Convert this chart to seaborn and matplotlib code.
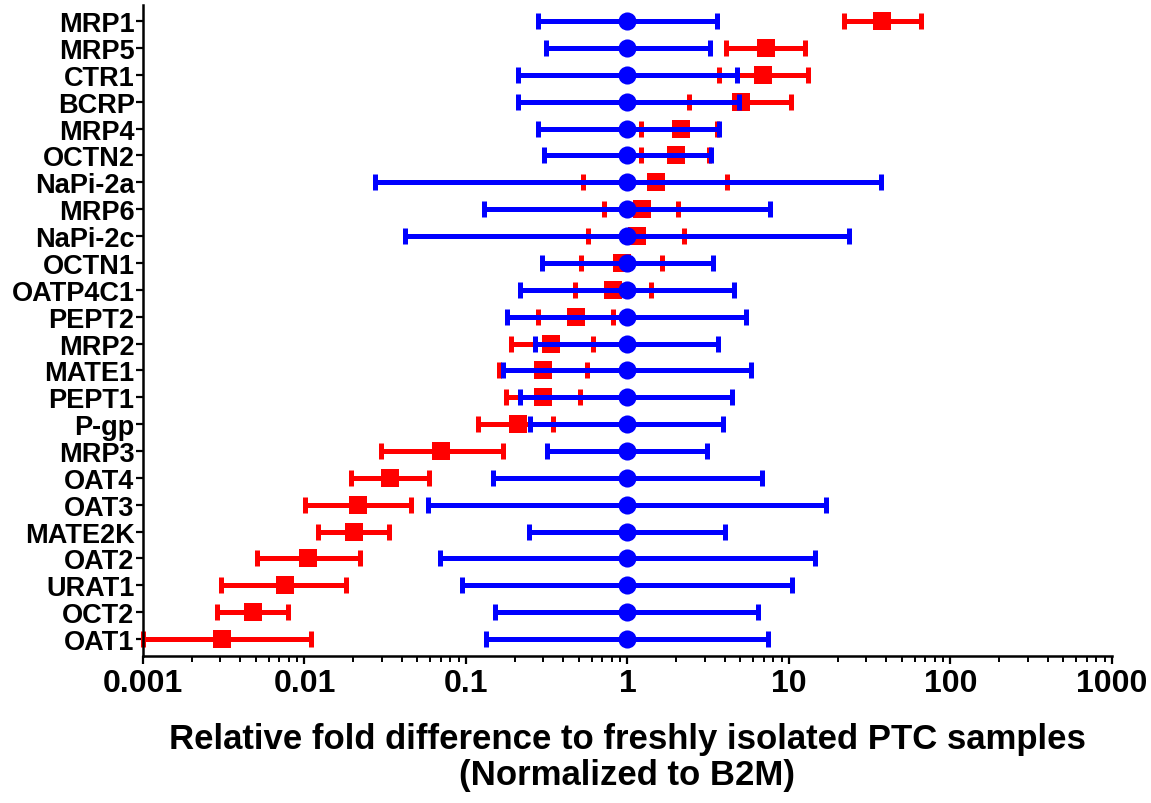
import numpy as np
import pandas as pd
import matplotlib
matplotlib.use("Agg")
import matplotlib.pyplot as plt
import matplotlib.ticker as mticker
import seaborn as sns

genes = ["MRP1", "MRP5", "CTR1", "BCRP", "MRP4", "OCTN2", "NaPi-2a", "MRP6",
         "NaPi-2c", "OCTN1", "OATP4C1", "PEPT2", "MRP2", "MATE1", "PEPT1", "P-gp",
         "MRP3", "OAT4", "OAT3", "MATE2K", "OAT2", "URAT1", "OCT2", "OAT1"]

blue_mean = [1.0] * 24
blue_low = [0.281, 0.312, 0.211, 0.211, 0.281, 0.306, 0.0274, 0.130, 0.0421, 0.294,
            0.217, 0.179, 0.267, 0.170, 0.217, 0.249, 0.318, 0.146, 0.0585, 0.246,
            0.0692, 0.0946, 0.152, 0.134]
blue_high = [3.56, 3.23, 4.80, 4.89, 3.69, 3.29, 37.0, 7.65, 23.4, 3.38,
             4.58, 5.43, 3.66, 5.83, 4.45, 3.93, 3.10, 6.79, 16.9, 4.02,
             14.4, 10.4, 6.47, 7.43]

red_mean = [37.9, 7.19, 6.95, 5.04, 2.13, 2.01, 1.50, 1.23, 1.15, 0.92,
            0.81, 0.479, 0.337, 0.302, 0.299, 0.210, 0.0697, 0.0339, 0.0215, 0.0202,
            0.0105, 0.00755, 0.00477, 0.00308]
red_low = [21.8, 4.08, 3.71, 2.41, 1.215, 1.215, 0.534, 0.72, 0.567, 0.519,
           0.471, 0.279, 0.189, 0.161, 0.177, 0.118, 0.0299, 0.0193, 0.0101, 0.0121,
           0.00507, 0.00306, 0.00287, 0.001]
red_high = [66.1, 12.5, 13.1, 10.3, 3.6, 3.2, 4.16, 2.05, 2.23, 1.63,
            1.39, 0.81, 0.615, 0.561, 0.508, 0.347, 0.170, 0.0591, 0.0455, 0.0333,
            0.0222, 0.0181, 0.00792, 0.0109]

x_ticks = [0.001, 0.01, 0.1, 1, 10, 100, 1000]
x_tick_labels = ["0.001", "0.01", "0.1", "1", "10", "100", "1000"]
xlabel = "Relative fold difference to freshly isolated PTC samples\n(Normalized to B2M)"

sns.set_theme(style="ticks")
plt.rcParams["font.family"] = ["Liberation Sans", "DejaVu Sans"]
plt.rcParams["font.weight"] = "bold"
plt.rcParams["text.color"] = "black"
plt.rcParams["axes.labelcolor"] = "black"
plt.rcParams["xtick.color"] = "black"
plt.rcParams["ytick.color"] = "black"

df = pd.DataFrame({
    "gene": genes, "pos": np.arange(len(genes)),
    "b_mean": blue_mean, "b_low": blue_low, "b_high": blue_high,
    "r_mean": red_mean, "r_low": red_low, "r_high": red_high,
})

fig = plt.figure(figsize=(11.51, 8.04), dpi=100)
ax = fig.add_axes([0.1242, 0.1832, 0.9661 - 0.1242, 0.9925 - 0.1832])
ax.set_xscale("log")

BLUE = "#0000FF"
RED = "#FF0000"
lw = 3.6

# red series (drawn beneath blue)
ax.errorbar(df["r_mean"], df["pos"],
            xerr=[df["r_mean"] - df["r_low"], df["r_high"] - df["r_mean"]],
            fmt="none", ecolor=RED, elinewidth=lw, capsize=6.0, capthick=lw,
            zorder=2, clip_on=False)
sns.scatterplot(data=df, x="r_mean", y="pos", marker="s", s=150, color=RED,
                edgecolor=RED, linewidth=0, ax=ax, zorder=3, legend=False, clip_on=False)

# blue series
ax.errorbar(df["b_mean"], df["pos"],
            xerr=[df["b_mean"] - df["b_low"], df["b_high"] - df["b_mean"]],
            fmt="none", ecolor=BLUE, elinewidth=lw, capsize=6.0, capthick=lw,
            zorder=4, clip_on=False)
sns.scatterplot(data=df, x="b_mean", y="pos", marker="o", s=170, color=BLUE,
                edgecolor=BLUE, linewidth=0, ax=ax, zorder=5, legend=False, clip_on=False)

ax.set_xlim(0.001, 1000)
ax.set_ylim(len(genes) - 1 + 0.62, -0.6)
ax.set_yticks(df["pos"])
ax.set_yticklabels(genes, fontsize=19.5, fontweight="bold", color="black")
ax.set_xticks(x_ticks)
ax.set_xticklabels(x_tick_labels, fontsize=23, fontweight="bold", color="black")
ax.xaxis.set_minor_locator(mticker.LogLocator(base=10, subs=np.arange(2, 10)))
ax.xaxis.set_minor_formatter(mticker.NullFormatter())

ax.set_xlabel(xlabel, fontsize=25, fontweight="bold", labelpad=17, linespacing=1.12,
              color="black")
ax.set_ylabel("")

for s in ["top", "right"]:
    ax.spines[s].set_visible(False)
for s in ["left", "bottom"]:
    ax.spines[s].set_linewidth(1.8)
    ax.spines[s].set_color("black")

ax.tick_params(axis="x", which="major", length=6, width=1.6, pad=3, colors="black")
ax.tick_params(axis="x", which="minor", length=4, width=1.4, colors="black")
ax.tick_params(axis="y", which="major", length=5, width=1.6, pad=1, colors="black")
ax.grid(False)

fig.savefig("out.png", dpi=100, facecolor="white")
